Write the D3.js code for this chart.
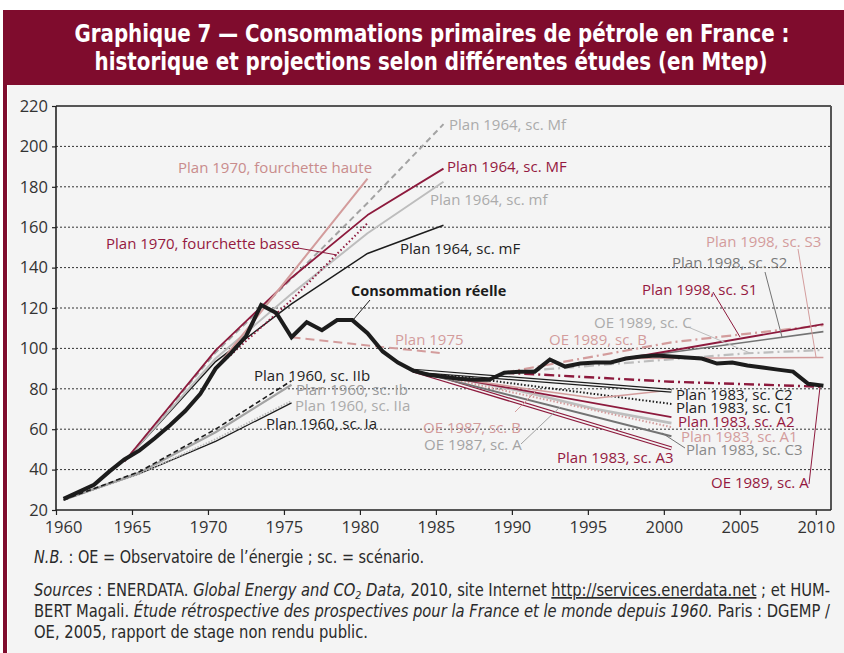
<!DOCTYPE html>
<html>
<head>
<meta charset="utf-8">
<script src="https://cdn.jsdelivr.net/npm/d3@7"></script>
<style>
  html, body { margin: 0; padding: 0; background: #fff; }
  svg { display: block; }
</style>
</head>
<body>
<svg id="chart" width="844" height="653"></svg>
<script>
// ---- data (Mtep) ----
const xTicks = [1960, 1965, 1970, 1975, 1980, 1985, 1990, 1995, 2000, 2005, 2010];
const yTicks = [20, 40, 60, 80, 100, 120, 140, 160, 180, 200, 220];

const reelleYears = [1960, 1961, 1962, 1963, 1964, 1965, 1966, 1967, 1968, 1969,
  1970, 1971, 1972, 1973, 1974, 1975, 1976, 1977, 1978, 1979,
  1980, 1981, 1982, 1983, 1984, 1985, 1986, 1987, 1988, 1989,
  1990, 1991, 1992, 1993, 1994, 1995, 1996, 1997, 1998, 1999,
  2000, 2001, 2002, 2003, 2004, 2005, 2006, 2007, 2008, 2009, 2010];
const reelleValues = [25.5, 29, 32.5, 39, 45, 49.5, 55.5, 62, 69, 77.5,
  90, 97.5, 106, 121.5, 117.5, 105.5, 113, 109, 114, 114,
  107.5, 98.5, 93, 89, 87, 86, 85, 84.5, 84.5, 88,
  88.5, 88.5, 94.5, 91, 92.5, 93, 93, 95, 96, 96.5,
  96, 95.5, 95, 92.5, 93, 91.5, 90.5, 89.5, 88.5, 82.5, 81.5];

const plan1960IIb = [[1960, 25], [1965, 39], [1970, 60], [1975, 84]];
const plan1960Ib = [[1960, 25], [1965, 38.5], [1970, 58.5], [1975, 82]];
const plan1960IIa = [[1960, 25], [1965, 38], [1970, 55], [1975, 74]];
const plan1960Ia = [[1960, 25], [1965, 38], [1970, 54], [1975, 73]];

const plan1964Mf = [[1964, 44], [1970, 98], [1975, 134.5], [1980, 172], [1985, 211]];
const plan1964MF = [[1964, 44], [1970, 99], [1975, 135], [1980, 166], [1985, 189]];
const plan1964mf = [[1964, 44], [1970, 95], [1975, 127], [1980, 157], [1985, 182.5]];
const plan1964mF = [[1964, 44], [1970, 93.5], [1975, 122], [1980, 147], [1985, 161]];

const plan1970Haute = [[1970, 90], [1975, 137], [1980, 184]];
const plan1970Basse = [[1970, 90], [1975, 124], [1980, 162]];

const plan1975 = [[1975, 105.5], [1985, 97.5]];

const plan1983C2 = [[1983, 89], [2000, 79]];
const plan1983C1 = [[1983, 89], [2000, 72.5]];
const plan1983A2 = [[1983, 89], [2000, 66]];
const plan1983A1 = [[1983, 89], [2000, 61]];
const plan1983C3 = [[1983, 89], [2000, 56.5]];
const plan1983A3 = [[1983, 89], [2000, 50.5]];

const oe1987A = [[1986, 85], [1990, 79], [1995, 70], [2000, 63]];
const oe1987B = [[1986, 85], [1990, 80.5], [1995, 75.3], [2000, 79.4]];

const oe1989A = [[1989, 88], [2000, 83.5], [2010, 81]];
const oe1989B = [[1989, 88], [2000, 103], [2010, 111.5]];
const oe1989C = [[1989, 88], [2005, 97.6], [2010, 99.2]];

const plan1998S1 = [[1997, 95], [2010, 112]];
const plan1998S2 = [[1997, 95], [2010, 108.3]];
const plan1998S3 = [[1997, 95], [2010, 95.5]];

// ---- styles ----
const C = {
  maroon: '#8d1a3d',
  pink: '#d39c9c',
  lgray: '#bdbdbd',
  mgray: '#a3a3a3',
  dgray: '#737373',
  black: '#1c1c1c',
  bg: '#f4f4f4',
};

const lineStyles = {
  blackDash: { stroke: C.black, width: 1.6, dash: '5,3' },
  grayThick: { stroke: C.mgray, width: 2.2 },
  grayDot: { stroke: C.lgray, width: 2, dash: '1.5,1.5' },
  blackThin: { stroke: C.black, width: 1.3 },
  grayDash: { stroke: C.mgray, width: 2, dash: '6,4' },
  maroon: { stroke: C.maroon, width: 1.8 },
  lgray: { stroke: C.lgray, width: 2 },
  black: { stroke: C.black, width: 1.5 },
  pink: { stroke: C.pink, width: 2 },
  maroonDot: { stroke: C.maroon, width: 2, dash: '1.5,2.5' },
  pinkDash: { stroke: C.pink, width: 2, dash: '9,5' },
  blackDouble: { stroke: C.black, width: 4, double: true },
  blackDot: { stroke: C.black, width: 2, dash: '1.5,2' },
  pinkDot: { stroke: C.pink, width: 2, dash: '1.5,2' },
  dgray: { stroke: C.dgray, width: 2 },
  maroonDouble: { stroke: C.maroon, width: 4, double: true },
  lgrayThick: { stroke: C.lgray, width: 2.6 },
  pinkThin: { stroke: C.pink, width: 1.6 },
  maroonDashDot: { stroke: C.maroon, width: 2.4, dash: '10,4,2,4' },
  pinkDashDot: { stroke: C.pink, width: 2.2, dash: '10,4,2,4' },
  lgrayDashDot: { stroke: C.lgray, width: 2.2, dash: '10,4,2,4' },
  dgrayThin: { stroke: C.dgray, width: 1.6 },
  reelle: { stroke: C.black, width: 4 },
};

const series = [
  { data: plan1960Ia, style: 'blackThin' },
  { data: plan1960IIa, style: 'grayDot' },
  { data: plan1960Ib, style: 'grayThick' },
  { data: plan1960IIb, style: 'blackDash' },
  { data: plan1964mF, style: 'black' },
  { data: plan1964mf, style: 'lgray' },
  { data: plan1964Mf, style: 'grayDash' },
  { data: plan1964MF, style: 'maroon' },
  { data: plan1970Basse, style: 'maroonDot' },
  { data: plan1970Haute, style: 'pink' },
  { data: plan1975, style: 'pinkDash' },
  { data: plan1983A3, style: 'maroonDouble' },
  { data: plan1983C3, style: 'dgray' },
  { data: oe1987A, style: 'lgrayThick' },
  { data: plan1983A1, style: 'pinkDot' },
  { data: plan1983A2, style: 'maroon' },
  { data: plan1983C1, style: 'blackDot' },
  { data: oe1987B, style: 'pinkThin' },
  { data: plan1983C2, style: 'blackDouble' },
  { data: oe1989A, style: 'maroonDashDot' },
  { data: oe1989C, style: 'lgrayDashDot' },
  { data: plan1998S3, style: 'pinkThin' },
  { data: plan1998S2, style: 'dgrayThin' },
  { data: oe1989B, style: 'pinkDashDot' },
  { data: plan1998S1, style: 'maroon' },
];

// annotations (pixel layout)
const labels = [
  { text: 'Plan 1970, fourchette haute', x: 178, y: 173, color: '#c98c8c' },
  { text: 'Plan 1964, sc. Mf', x: 449, y: 130, color: '#ababab' },
  { text: 'Plan 1964, sc. MF', x: 447, y: 172, color: '#94193f' },
  { text: 'Plan 1964, sc. mf', x: 430, y: 205, color: '#ababab' },
  { text: 'Plan 1970, fourchette basse', x: 106, y: 249, color: '#94193f' },
  { text: 'Plan 1964, sc. mF', x: 400, y: 254, color: '#222' },
  { text: 'Consommation réelle', x: 351, y: 296, color: '#1c1c1c', bold: true },
  { text: 'Plan 1975', x: 395, y: 345, color: '#d39c9c' },
  { text: 'OE 1989, sc. C', x: 594, y: 328, color: '#ababab' },
  { text: 'OE 1989, sc. B', x: 549, y: 345, color: '#d39c9c' },
  { text: 'Plan 1998, sc. S3', x: 706, y: 247, color: '#d39c9c' },
  { text: 'Plan 1998, sc. S2', x: 672, y: 268, color: '#7a7a7a' },
  { text: 'Plan 1998, sc. S1', x: 642, y: 295, color: '#94193f' },
  { text: 'Plan 1960, sc. IIb', x: 254, y: 381, color: '#222' },
  { text: 'Plan 1960, sc. Ib', x: 296, y: 395, color: '#9a9a9a' },
  { text: 'Plan 1960, sc. IIa', x: 295, y: 411, color: '#ababab' },
  { text: 'Plan 1960, sc. Ia', x: 266, y: 429, color: '#222' },
  { text: 'OE 1987, sc. B', x: 423, y: 433, color: '#d39c9c' },
  { text: 'OE 1987, sc. A', x: 424, y: 450, color: '#a3a3a3' },
  { text: 'Plan 1983, sc. C2', x: 676, y: 400, color: '#222' },
  { text: 'Plan 1983, sc. C1', x: 676, y: 413, color: '#222' },
  { text: 'Plan 1983, sc. A2', x: 678, y: 427, color: '#94193f' },
  { text: 'Plan 1983, sc. A1', x: 681, y: 442, color: '#d39c9c' },
  { text: 'Plan 1983, sc. C3', x: 686, y: 455, color: '#8a8a8a' },
  { text: 'Plan 1983, sc. A3', x: 557, y: 463, color: '#94193f' },
  { text: 'OE 1989, sc. A', x: 711, y: 488, color: '#94193f' },
];

const leaders = [
  { x1: 298, y1: 248, x2: 337, y2: 255, color: C.maroon },
  { x1: 370, y1: 300, x2: 353, y2: 320, color: C.black },
  { x1: 688, y1: 327, x2: 750, y2: 353, color: C.lgray },
  { x1: 798, y1: 249, x2: 816, y2: 357, color: C.pink },
  { x1: 765, y1: 272, x2: 782, y2: 337, color: C.dgray },
  { x1: 713, y1: 292, x2: 740, y2: 337, color: C.maroon },
  { x1: 515, y1: 412, x2: 537, y2: 390, color: C.pink },
  { x1: 521, y1: 444, x2: 560, y2: 407, color: C.mgray },
  { x1: 685, y1: 448, x2: 662, y2: 433, color: C.dgray },
  { x1: 809, y1: 484, x2: 820, y2: 387, color: C.maroon },
];

// ---- layout ----
const svg = d3.select('#chart');
const plot = { left: 56, right: 831, top: 106, bottom: 510 };
const chartFont = '"Open Sans", "Noto Sans", sans-serif';
const narrowFont = '"Liberation Sans Narrow", "DejaVu Sans Condensed", "Roboto", sans-serif';

svg.append('rect').attr('x', 0).attr('y', 0).attr('width', 844).attr('height', 653).attr('fill', '#fff');
svg.append('rect').attr('x', 8).attr('y', 85).attr('width', 836).attr('height', 568).attr('fill', C.bg);
svg.append('rect').attr('x', 3).attr('y', 10).attr('width', 841).attr('height', 75).attr('fill', '#7f0c2d');
svg.append('rect').attr('x', 3).attr('y', 85).attr('width', 4).attr('height', 568).attr('fill', '#7f0c2d');

// title, fitted to the reference widths
const titleLines = [
  { text: 'Graphique 7 — Consommations primaires de pétrole en France :', cx: 432, y: 42, w: 715 },
  { text: 'historique et projections selon différentes études (en Mtep)', cx: 431, y: 70, w: 673 },
];
svg.append('g').selectAll('text')
  .data(titleLines)
  .join('text')
  .attr('x', (d) => d.cx - d.w / 2)
  .attr('y', (d) => d.y)
  .attr('textLength', (d) => d.w)
  .attr('lengthAdjust', 'spacingAndGlyphs')
  .attr('fill', '#fff')
  .style('font-family', narrowFont)
  .style('font-weight', 'bold')
  .style('font-size', '24px')
  .text((d) => d.text);

const x = d3.scaleLinear().domain([1960, 2011]).range([plot.left, plot.right]);
const y = d3.scaleLinear().domain([20, 220]).range([plot.bottom, plot.top]);

// grid
svg.append('g')
  .selectAll('line')
  .data(yTicks.filter((v) => v > 20 && v < 220))
  .join('line')
  .attr('x1', plot.left)
  .attr('x2', plot.right)
  .attr('y1', (d) => y(d))
  .attr('y2', (d) => y(d))
  .attr('stroke', '#333')
  .attr('stroke-width', 1)
  .attr('stroke-dasharray', '2,2');

// frame
svg.append('line').attr('x1', plot.left).attr('x2', plot.right).attr('y1', plot.top).attr('y2', plot.top)
  .attr('stroke', '#222').attr('stroke-width', 1.5);
svg.append('line').attr('x1', plot.right).attr('x2', plot.right).attr('y1', plot.top).attr('y2', plot.bottom)
  .attr('stroke', '#555').attr('stroke-width', 2);

// axes
const xAxis = svg.append('g')
  .attr('transform', `translate(0,${plot.bottom})`)
  .call(d3.axisBottom(x).tickValues(xTicks).tickFormat(d3.format('d')).tickSize(5).tickPadding(6));
const yAxis = svg.append('g')
  .attr('transform', `translate(${plot.left},0)`)
  .call(d3.axisLeft(y).tickValues(yTicks).tickSize(4).tickPadding(4));

[xAxis, yAxis].forEach((g) => {
  g.select('.domain').attr('stroke', '#222').attr('stroke-width', 1.6);
  g.selectAll('.tick line').attr('stroke', '#222').attr('stroke-width', 1.2);
  g.selectAll('.tick text')
    .attr('fill', '#333')
    .style('font-family', chartFont)
    .style('font-size', '16.5px');
});
xAxis.select('.domain').attr('d', `M${plot.left},0H${plot.right}`);
yAxis.select('.domain').attr('d', `M0,${plot.bottom}V${plot.top}`);
xAxis.selectAll('.tick text').filter((d) => d === 1960).attr('dx', 7);

// series
const line = d3.line()
  .x((d) => x(d[0] + 0.5))
  .y((d) => y(d[1]));

const seriesLayer = svg.append('g').attr('fill', 'none').attr('stroke-linejoin', 'round');
series.forEach((s) => {
  const st = lineStyles[s.style];
  seriesLayer.append('path')
    .datum(s.data)
    .attr('d', line)
    .attr('stroke', st.stroke)
    .attr('stroke-width', st.width)
    .attr('stroke-dasharray', st.dash || null);
  if (st.double) {
    seriesLayer.append('path')
      .datum(s.data)
      .attr('d', line)
      .attr('stroke', C.bg)
      .attr('stroke-width', st.width - 2.4);
  }
});

const reelle = reelleYears.map((yr, i) => [yr, reelleValues[i]]);
seriesLayer.append('path')
  .datum(reelle)
  .attr('d', line)
  .attr('stroke', C.black)
  .attr('stroke-width', lineStyles.reelle.width)
  .attr('stroke-linejoin', 'miter');

// leaders + labels
svg.append('g')
  .selectAll('line')
  .data(leaders)
  .join('line')
  .attr('x1', (d) => d.x1).attr('y1', (d) => d.y1)
  .attr('x2', (d) => d.x2).attr('y2', (d) => d.y2)
  .attr('stroke', (d) => d.color)
  .attr('stroke-width', 1);

svg.append('g')
  .selectAll('text')
  .data(labels)
  .join('text')
  .attr('x', (d) => d.x)
  .attr('y', (d) => d.y)
  .attr('fill', (d) => d.color)
  .style('font-family', chartFont)
  .style('font-size', (d) => (d.bold ? '14.5px' : '15px'))
  .style('font-weight', (d) => (d.bold ? 'bold' : 'normal'))
  .text((d) => d.text);

// notes
const notes = svg.append('g')
  .attr('fill', '#2a2a2a')
  .style('font-family', narrowFont)
  .style('font-size', '17px');

function noteLine(yPos, width, parts) {
  const t = notes.append('text')
    .attr('x', 34)
    .attr('y', yPos);
  if (width) t.attr('textLength', width).attr('lengthAdjust', 'spacingAndGlyphs');
  parts.forEach((p) => {
    const ts = t.append('tspan').text(p.t);
    if (p.i) ts.style('font-style', 'italic');
    if (p.u) ts.style('text-decoration', 'underline');
    if (p.sub) ts.attr('dy', 3).style('font-size', '11px');
    if (p.after) ts.attr('dy', -3);
  });
  return t;
}

noteLine(563, 390, [
  { t: 'N.B.', i: true },
  { t: ' : OE = Observatoire de l’énergie ; sc. = scénario.' },
]);
noteLine(596, 796, [
  { t: 'Sources', i: true },
  { t: ' : ENERDATA. ' },
  { t: 'Global Energy and CO', i: true },
  { t: '2', i: true, sub: true },
  { t: ' Data,', i: true, after: true },
  { t: ' 2010, site Internet ' },
  { t: 'http://services.enerdata.net', u: true },
  { t: ' ; et HUM-' },
]);
noteLine(617, 796, [
  { t: 'BERT Magali. ' },
  { t: 'Étude rétrospective des prospectives pour la France et le monde depuis 1960.', i: true },
  { t: ' Paris : DGEMP /' },
]);
noteLine(638, 334, [
  { t: 'OE, 2005, rapport de stage non rendu public.' },
]);
</script>
</body>
</html>
